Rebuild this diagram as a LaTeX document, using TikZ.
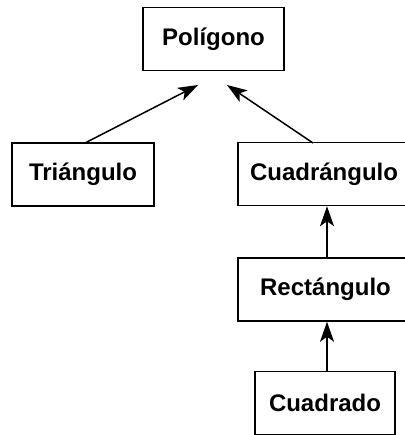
\documentclass[tikz,border=0pt]{standalone}
\usepackage{fontspec}
\setmainfont{Liberation Sans}
\usetikzlibrary{arrows.meta,calc}
\begin{document}
\begin{tikzpicture}[x=1pt,y=-1pt,
  box/.style={draw,line width=1.5pt,minimum height=63pt,inner sep=0pt,font=\fontsize{24}{28}\selectfont\bfseries},
  arr/.style={line width=1.5pt,-{Stealth[length=20pt,width=14pt,inset=5pt]}}]
\useasboundingbox (0,0) rectangle (404,435);
\node[box,minimum width=141pt] (pol) at (213.5,39) {Polígono};
\node[box,minimum width=142pt] (tri) at (83,174.5) {Triángulo};
\node[box,minimum width=172pt] (cua) at (324,174) {Cuadrángulo};
\node[box,minimum width=175pt] (rec) at (325.5,289.5) {Rectángulo};
\node[box,minimum width=140pt] (cdo) at (325,403) {Cuadrado};
\coordinate (tl) at (198,85);
\coordinate (tr) at (227,85);
\coordinate (ts) at (85,143);
\coordinate (cs) at (313,143);
\draw[arr] (ts) -- (tl);
\draw[arr] (cs) -- (tr);
\draw[arr] (rec.north -| 327,0) -- (cua.south -| 327,0);
\draw[arr] (cdo.north -| 327,0) -- (rec.south -| 327,0);
\end{tikzpicture}
\end{document}
